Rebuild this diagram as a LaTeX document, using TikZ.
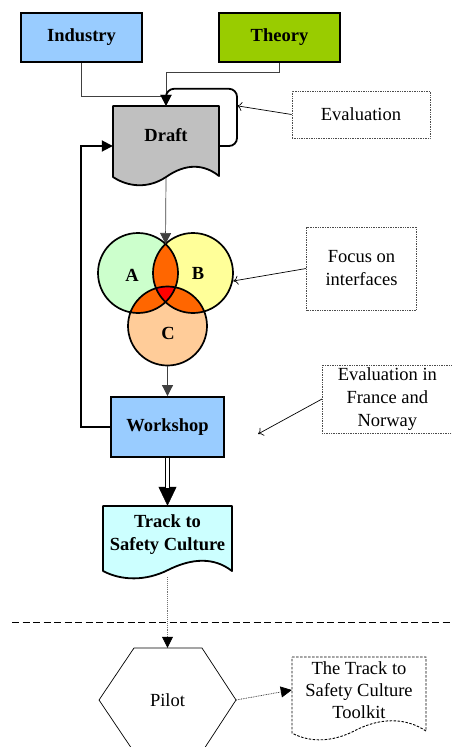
\documentclass[tikz,border=0pt]{standalone}
\usepackage{fontspec}
\setmainfont{Liberation Serif}
\usetikzlibrary{arrows.meta,calc}

\definecolor{indblue}{HTML}{99CCFF}
\definecolor{theogreen}{HTML}{99CC00}
\definecolor{draftgray}{HTML}{C0C0C0}
\definecolor{circA}{HTML}{CCFFCC}
\definecolor{circB}{HTML}{FFFF99}
\definecolor{circC}{HTML}{FFCC99}
\definecolor{overlap}{HTML}{FF6600}
\definecolor{core}{HTML}{FF0000}
\definecolor{trackcyan}{HTML}{CCFFFF}

\tikzset{
  bigtext/.style={font=\fontsize{18.5}{22}\selectfont},
  boldtext/.style={font=\fontsize{18.5}{23}\selectfont\bfseries},
  inbox/.style={draw, line width=1.8pt, boldtext,
    minimum width=121pt, minimum height=49pt, inner sep=0pt},
  notebox/.style={draw=black!70, densely dotted, line width=0.7pt, align=center,
    font=\fontsize{18.5}{23}\selectfont, inner sep=0pt},
  holder/.style={inner sep=0pt, align=center},
  thinline/.style={line width=0.7pt, draw=black!75},
  openarrow/.style={line width=0.7pt, -{To[length=5pt,width=9pt]}},
  fillarrow/.style={-{Triangle[length=11pt,width=11pt]}},
  docedge/.style={line width=1.8pt, line join=round},
}

\begin{document}
\begin{tikzpicture}[x=1pt,y=-1pt]
\useasboundingbox (0,0) rectangle (451,747);

% --- sources ---
\node[inbox, fill=indblue] (ind) at (81.5,37.5) {Industry};
\node[inbox, fill=theogreen] (theo) at (279.5,37.5) {Theory};

% --- draft document ---
\path[docedge, fill=draftgray, draw=black]
  (113,106) -- (219,106) -- (219,176)
  .. controls (204,164) and (186,163) .. (166,177)
  .. controls (148,189) and (128,187) .. (113,177) -- cycle;
\node[holder, minimum width=106pt, minimum height=70pt, text depth=12pt, boldtext] (draft) at (166,141) {Draft};

% inputs into the draft
\draw[thinline] (ind.south) |- ($(draft.north)+(0,-9)$);
\draw[thinline, fillarrow] (theo.south) -- ++(0,9) -| (draft.north);

% self evaluation loop
\draw[line width=1.8pt, rounded corners=8pt, fillarrow]
  ([yshift=-5pt]draft.east) -| ($(draft.north)+(71,-17)$) -| (draft.north);
\coordinate (loopside) at ($(draft.north)+(71,0)$);

\node[notebox, minimum width=138pt, minimum height=47pt] (eval) at (361,114.5) {Evaluation};
\draw[openarrow] (eval.west) -- (loopside);

% --- interfaces (Venn) ---
\node[circle, fill=circA, minimum size=80pt, inner sep=0pt] (A) at (138,273) {};
\node[circle, fill=circB, minimum size=80pt, inner sep=0pt] (B) at (193,273) {};
\node[circle, fill=circC, minimum size=79pt, inner sep=0pt] (C) at (167.5,326) {};
\begin{scope}
  \clip (A.center) circle (40pt);
  \fill[overlap] (B.center) circle (40pt);
  \fill[overlap] (C.center) circle (39.5pt);
\end{scope}
\begin{scope}
  \clip (B.center) circle (40pt);
  \fill[overlap] (C.center) circle (39.5pt);
\end{scope}
\begin{scope}
  \clip (A.center) circle (40pt);
  \clip (B.center) circle (40pt);
  \fill[core] (C.center) circle (39.5pt);
\end{scope}
\draw[line width=1.7pt] (A.center) circle (40pt) (B.center) circle (40pt) (C.center) circle (39.5pt);
\node[boldtext] (Alab) at (132,275) {A};
\node[boldtext] (Blab) at (198,273) {B};
\node[boldtext] (Clab) at (168,333) {C};
\coordinate (ABtop) at (165.5,244);
\draw[thinline, fillarrow] ($(draft.south)+(0,2)$) -- (ABtop);

\node[notebox, minimum width=110pt, minimum height=83pt] (focus) at (361.5,268.5)
  {Focus on\\interfaces};
\draw[openarrow] (focus.west) -- (B.east |- 0,281);

% --- workshop ---
\node[inbox, fill=indblue, minimum width=113pt, minimum height=60pt] (work) at (167.5,427) {Workshop};
\draw[thinline, fillarrow] (C.south) -- (work.north);

\draw[line width=1.8pt, fillarrow] (work.west) -- ++(-29,0) |- ([yshift=-5pt]draft.west);

\node[notebox, minimum width=130pt, minimum height=68pt, anchor=west] (france) at (322,399)
  {Evaluation in\\France and\\Norway};
\coordinate (frtip) at (258,434);
\draw[openarrow] (france.west) -- (frtip);

% --- track to safety culture ---
\path[docedge, fill=trackcyan, draw=black]
  (103,506) -- (232,506) -- (232,571)
  .. controls (214,557) and (192,558) .. (168,570)
  .. controls (146,581) and (122,581) .. (103,571) -- cycle;
\node[holder, minimum width=129pt, minimum height=58pt, boldtext] (track) at (167.5,535) {Track to\\Safety Culture};

\draw[line width=0.5pt, -{Triangle[length=19pt,width=18pt]}] (work.south) -- (track.north);
\draw[line width=1.7pt, double, double distance=2.2pt, shorten >=18pt] (work.south) -- (track.north);

% --- pilot phase ---
\draw[line width=1.8pt, dash pattern=on 7pt off 3.5pt] (12,622.5) -- (451,622.5);

\draw[line width=0.7pt] (134,648) -- (202,648) -- (236,700) -- (202,752)
  -- (134,752) -- (99,700) -- cycle;
\node[holder, minimum width=137pt, minimum height=104pt, bigtext] (pilot) at (167.5,700) {Pilot};

\draw[line width=0.9pt, draw=black!55, densely dotted] ($(track.south)+(0,13)$) -- ($(pilot.north)+(0,-3)$);
\draw[fillarrow, line width=0.7pt] ($(pilot.north)+(0,-3)$) -- (pilot.north);

\path[draw=black, line width=0.9pt, dash pattern=on 2.5pt off 1.5pt]
  (292,657) -- (426,657) -- (426,731)
  .. controls (405,717) and (380,718) .. (356,730)
  .. controls (334,742) and (310,743) .. (292,733) -- cycle;
\node[holder, minimum width=134pt, minimum height=70pt, bigtext] (kit) at (359,690) {The Track to\\Safety Culture\\Toolkit};

\draw[line width=0.7pt, densely dotted, fillarrow] (pilot.east) -- (kit.west);
\end{tikzpicture}
\end{document}
